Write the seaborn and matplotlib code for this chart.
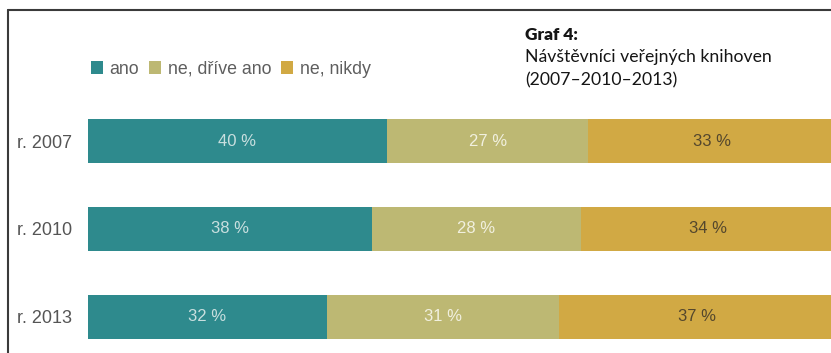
import seaborn as sns
import matplotlib.pyplot as plt
import pandas as pd
from matplotlib.patches import Patch
from matplotlib.lines import Line2D

# Data
years = ["r. 2007", "r. 2010", "r. 2013"]
ano = [40, 38, 32]
drive_ano = [27, 28, 31]
nikdy = [33, 34, 37]
series_names = ["ano", "ne, dříve ano", "ne, nikdy"]
colors = ["#2e8a8d", "#bdb873", "#d1a944"]
label_colors = ["#c9dfdf", "#f1f0df", "#54472d"]

sns.set_style("white")
plt.rcParams['font.family'] = ['Liberation Sans', 'DejaVu Sans']

fig = plt.figure(figsize=(8.31, 3.53), dpi=100)
ax = fig.add_axes([88 / 831, 0.0023, 747 / 831, 0.7229])

# stacked bars: draw cumulative totals, largest first
series = [ano, drive_ano, nikdy]
cum = []
running = [0] * len(years)
for s in series:
    running = [r + v for r, v in zip(running, s)]
    cum.append(list(running))

for i in reversed(range(len(series))):
    df = pd.DataFrame({"rok": years, "hodnota": cum[i]})
    sns.barplot(data=df, x="hodnota", y="rok", orient="h", color=colors[i],
                width=0.51, saturation=1, ax=ax, edgecolor="none")

# segment labels
for i, s in enumerate(series):
    for j, v in enumerate(s):
        start = cum[i][j] - v
        ax.text(start + v / 2, j, f"{v} %", ha="center", va="center",
                fontsize=12, color=label_colors[i])

ax.set_xlim(0, 100)
ax.set_ylim(2.4, -0.5)
ax.set_xlabel("")
ax.set_ylabel("")
ax.set_xticks([])
ax.tick_params(axis="y", length=0, pad=11.5, labelsize=13, labelcolor="#555555")
sns.despine(ax=ax, left=True, bottom=True)

# legend
handles = [Patch(facecolor=c, edgecolor="none") for c in colors]
fig.legend(handles, series_names, loc="center left",
           bbox_to_anchor=(82 / 831, 1 - 69 / 353), ncol=3, frameon=False,
           fontsize=12.8, handlelength=0.7, handleheight=0.7, handletextpad=0.35,
           columnspacing=0.55, borderpad=0, labelcolor="#5e5e5e")

# title block
fig.text(525 / 831, 1 - 40 / 353, "Graf 4:", fontsize=12.5, fontweight="heavy",
         family="Lato", color="#151515", va="baseline")
fig.text(525 / 831, 1 - 62 / 353, "Návštěvníci veřejných knihoven", fontsize=12.7,
         family="Lato", color="#151515", va="baseline")
fig.text(525 / 831, 1 - 85 / 353, "(2007–2010–2013)", fontsize=12.7,
         family="Lato", color="#151515", va="baseline")

# frame lines
fig.add_artist(Line2D([8 / 831, 1], [1 - 10 / 353, 1 - 10 / 353],
                      color="#3a3a3a", lw=1.5, transform=fig.transFigure))
fig.add_artist(Line2D([8 / 831, 8 / 831], [0, 1 - 10 / 353],
                      color="#3a3a3a", lw=1.5, transform=fig.transFigure))

fig.savefig("out.png", dpi=100, facecolor="white")
